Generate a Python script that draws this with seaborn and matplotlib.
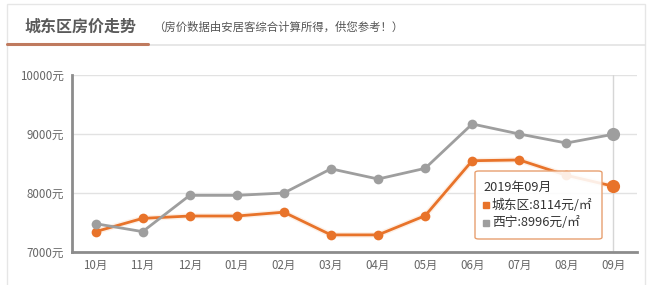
import matplotlib
matplotlib.use("Agg")
import matplotlib.pyplot as plt
import seaborn as sns
import pandas as pd
from matplotlib.patches import Rectangle, FancyBboxPatch
from matplotlib.lines import Line2D

months = ["10月", "11月", "12月", "01月", "02月", "03月", "04月", "05月", "06月", "07月", "08月", "09月"]
chengdong = [7345, 7570, 7610, 7610, 7675, 7290, 7290, 7615, 8547, 8560, 8300, 8114]
xining = [7480, 7345, 7960, 7960, 8000, 8410, 8237, 8418, 9170, 9000, 8847, 8996]
yticks = [7000, 8000, 9000, 10000]
ytick_labels = ["7000元", "8000元", "9000元", "10000元"]
title = "城东区房价走势"
subtitle = "（房价数据由安居客综合计算所得，供您参考！）"
tip_title = "2019年09月"
tip_lines = ["城东区:8114元/㎡", "西宁:8996元/㎡"]

sns.set_style("white")
plt.rcParams['font.family'] = ['Noto Sans CJK SC', 'DejaVu Sans']

ORANGE = "#e8732a"
GRAY = "#9e9e9e"

W, H = 652, 285
fig = plt.figure(figsize=(W / 100, H / 100), dpi=100)
fig.patch.set_facecolor("white")

def px(x, y):
    return x / W, 1 - y / H

# card border
fig.add_artist(Rectangle(px(7, 290), (645 - 7) / W, (290 - 4) / H, transform=fig.transFigure,
                         fill=False, edgecolor="#e6e6e6", linewidth=1))
# title underline
fig.add_artist(Line2D([7 / W, 645 / W], [1 - 44.5 / H] * 2, transform=fig.transFigure, color="#e3e3e3", lw=1.2))
fig.add_artist(Line2D([7 / W, 148 / W], [1 - 44 / H] * 2, transform=fig.transFigure, color="#bf7a5e", lw=2.2))
fig.text(*px(25, 27), title, fontsize=11.5, color="#5a5a5a", fontweight="bold", va="center", ha="left")
fig.text(*px(153, 27), subtitle, fontsize=8.2, color="#555555", va="center", ha="left")

ax = fig.add_axes([72 / W, 1 - 252 / H, (637 - 72) / W, (252 - 75) / H])
df = pd.DataFrame({
    "x": list(range(len(months))) * 2,
    "value": chengdong + xining,
    "series": ["城东区"] * len(months) + ["西宁"] * len(months),
})

# orange halo
ax.plot(range(len(months)), chengdong, color="#fdf0e6", lw=4, zorder=2, solid_capstyle="round")
sns.lineplot(data=df, x="x", y="value", hue="series", palette={"城东区": ORANGE, "西宁": GRAY},
             marker="o", markersize=7, markeredgewidth=0, linewidth=2, legend=False, ax=ax, zorder=3)
# hovered markers
ax.scatter([11], [chengdong[11]], s=90, color=ORANGE, zorder=5, linewidths=0)
ax.scatter([11], [xining[11]], s=90, color=GRAY, zorder=5, linewidths=0)

ax.set_xlim(-0.5, 11.5)
ax.set_ylim(7000, 10000)
ax.set_xticks(range(len(months)))
ax.set_xticklabels(months)
ax.set_yticks(yticks)
ax.set_yticklabels(ytick_labels)
ax.set_xlabel("")
ax.set_ylabel("")
ax.tick_params(axis="both", labelsize=8.3, colors="#666666", length=0, pad=6)
ax.tick_params(axis="x", pad=5)
ax.yaxis.grid(True, color="#e2e2e2", lw=1)
ax.set_axisbelow(True)
ax.axvline(11, color="#d6d6d6", lw=1, zorder=1)
for s in ["top", "right"]:
    ax.spines[s].set_visible(False)
for s in ["left", "bottom"]:
    ax.spines[s].set_color("#8c8c8c")
    ax.spines[s].set_linewidth(2)

# tooltip
tip = FancyBboxPatch(px(475, 239), (602 - 475) / W, (239 - 171) / H, boxstyle="round,pad=0,rounding_size=0.006",
                     transform=fig.transFigure, facecolor=(1, 1, 1, 0.88), edgecolor="#e8a070", lw=1, zorder=10)
fig.add_artist(tip)
fig.text(*px(483, 187), tip_title, fontsize=9.2, color="#333333", va="center", ha="left", zorder=11)
for i, (t, c) in enumerate(zip(tip_lines, [ORANGE, GRAY])):
    y = 205 + i * 18
    fig.add_artist(Rectangle(px(483, y + 3), 6 / W, 6 / H, transform=fig.transFigure, color=c, zorder=11))
    fig.text(*px(492, y), t, fontsize=9.2, color="#333333", va="center", ha="left", zorder=11)

fig.savefig("out.png", dpi=100)
